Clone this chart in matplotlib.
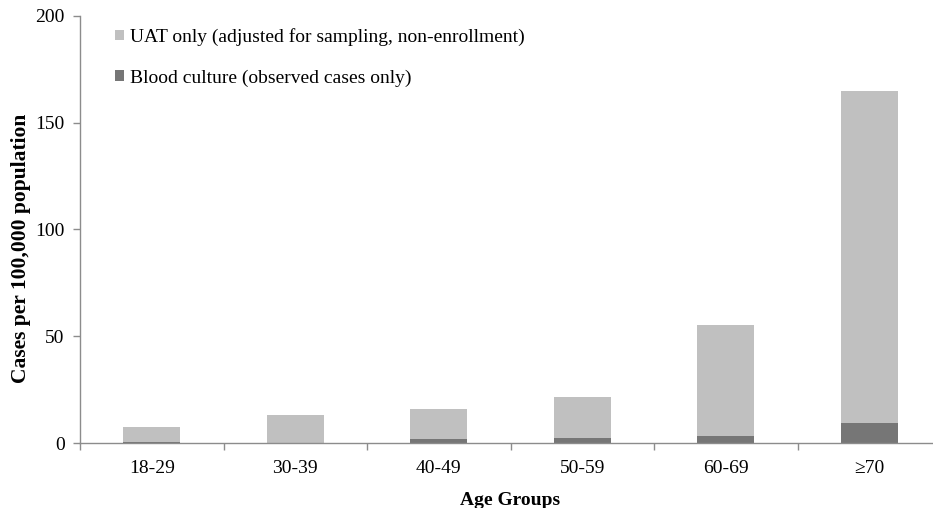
import numpy as np
import matplotlib.pyplot as plt
from matplotlib.ticker import FixedLocator

plt.rcParams['font.family'] = ['Liberation Serif', 'DejaVu Serif']

age_groups = ["18-29", "30-39", "40-49", "50-59", "60-69", "\u226570"]
blood_culture = [0.7, 0.0, 1.7, 2.2, 3.1, 9.4]
uat_only = [6.8, 13.0, 14.3, 19.3, 52.2, 155.6]

light = "#c0c0c0"
dark = "#767676"
axis_col = "#8c8c8c"

fig = plt.figure(figsize=(9.33, 5.08), dpi=100)
ax = fig.add_axes([80 / 933, 65 / 508, 861 / 933, 427 / 508])

x = np.arange(len(age_groups))
width = 0.4
ax.bar(x, uat_only, width, bottom=blood_culture, color=light,
       label="UAT only (adjusted for sampling, non-enrollment)")
ax.bar(x, blood_culture, width, color=dark,
       label="Blood culture (observed cases only)")

ax.set_xlim(-0.5, len(age_groups) - 0.5)
ax.set_ylim(0, 200)
ax.set_yticks([0, 50, 100, 150, 200])
ax.set_xticks(x)
ax.set_xticklabels(age_groups)
ax.xaxis.set_minor_locator(FixedLocator(np.arange(-0.5, len(age_groups), 1.0)))
ax.tick_params(axis="x", which="major", length=0, pad=12, labelsize=14)
ax.tick_params(axis="x", which="minor", length=5, color=axis_col, width=1)
ax.tick_params(axis="y", length=5, color=axis_col, width=1, labelsize=14, pad=6)

for side in ("top", "right"):
    ax.spines[side].set_visible(False)
for side in ("left", "bottom"):
    ax.spines[side].set_color(axis_col)
    ax.spines[side].set_linewidth(1)

ax.set_xlabel("Age Groups", fontsize=14, fontweight="bold", labelpad=11)
ax.set_ylabel("Cases per 100,000 population", fontsize=15.5, fontweight="bold")
ax.yaxis.set_label_coords(-0.057, 0.455)

ax.legend(loc="upper left", bbox_to_anchor=(0.032, 0.99), frameon=False,
          fontsize=14, handlelength=0.45, handleheight=0.45, handletextpad=0.3,
          labelspacing=1.2, borderaxespad=0)

fig.savefig("out.png", dpi=100)
